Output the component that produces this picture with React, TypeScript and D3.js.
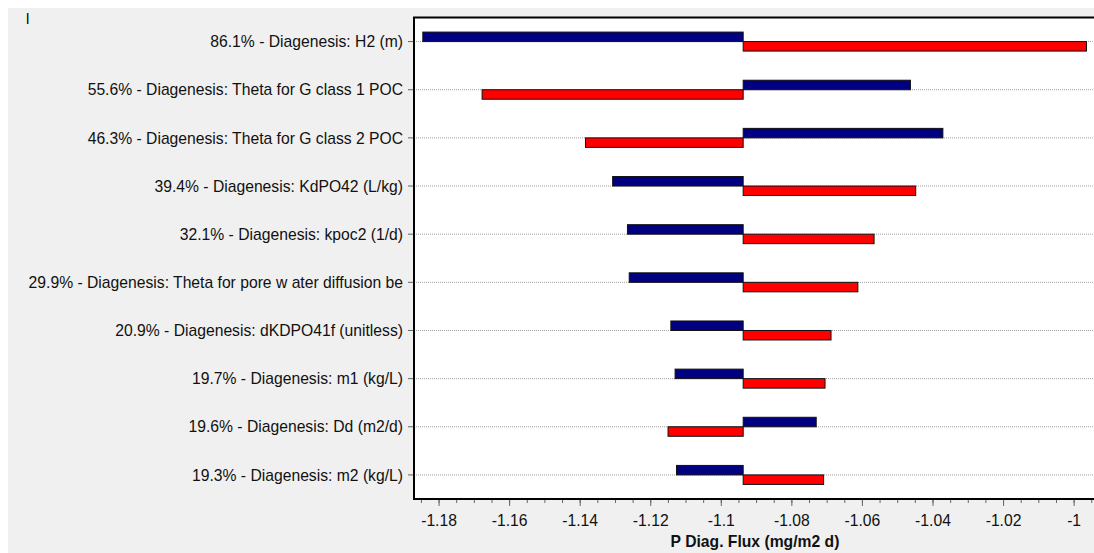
import React, { useEffect, useRef } from 'react';
import * as d3 from 'd3';

const labels = [
  '86.1% - Diagenesis: H2 (m)',
  '55.6% - Diagenesis: Theta for G class 1 POC',
  '46.3% - Diagenesis: Theta for G class 2 POC',
  '39.4% - Diagenesis: KdPO42 (L/kg)',
  '32.1% - Diagenesis: kpoc2 (1/d)',
  '29.9% - Diagenesis: Theta for pore w ater diffusion be',
  '20.9% - Diagenesis: dKDPO41f (unitless)',
  '19.7% - Diagenesis: m1 (kg/L)',
  '19.6% - Diagenesis: Dd (m2/d)',
  '19.3% - Diagenesis: m2 (kg/L)',
];

// blue bars (upper half of each row) and red bars (lower half)
const blueValues = [-1.1846, -1.0464, -1.0372, -1.1308, -1.1266, -1.1261, -1.1143, -1.1131, -1.0731, -1.1127];
const redValues = [-0.9965, -1.1678, -1.1385, -1.0449, -1.0567, -1.0613, -1.0689, -1.0706, -1.1151, -1.071];
const baseValue = -1.0938;

const xTicks = [-1.18, -1.16, -1.14, -1.12, -1.1, -1.08, -1.06, -1.04, -1.02, -1];
const xTitle = 'P Diag. Flux (mg/m2 d)';

const W = 1094;
const H = 553;

export default function App() {
  const svgRef = useRef<SVGSVGElement | null>(null);

  useEffect(() => {
    if (!svgRef.current) return;
    const svg = d3.select(svgRef.current);
    svg.selectAll('*').remove();

    const left = 414, right = 1096, top = 17.5, bottom = 499;
    const font = 'Liberation Sans, Arial, sans-serif';

    svg.append('rect')
      .attr('x', 8).attr('y', 8)
      .attr('width', W - 8).attr('height', H - 8)
      .attr('fill', '#f0f0f0');

    svg.append('text')
      .attr('x', 26).attr('y', 24)
      .attr('font-family', font).attr('font-size', 15)
      .text('l');

    const x = d3.scaleLinear().domain([-1.1871, -0.9938]).range([left, right]);
    const y = d3.scaleBand<string>().domain(labels).range([top, bottom]).padding(0);

    svg.append('rect')
      .attr('x', left).attr('y', top)
      .attr('width', right - left).attr('height', bottom - top)
      .attr('fill', '#fff');

    // gridlines
    svg.append('g').selectAll('line')
      .data(labels)
      .enter()
      .append('line')
      .attr('x1', left).attr('x2', right)
      .attr('y1', d => y(d)! + y.bandwidth() / 2)
      .attr('y2', d => y(d)! + y.bandwidth() / 2)
      .attr('stroke', '#a0a0a0')
      .attr('stroke-dasharray', '1,1');

    const bh = 9.5;
    const rows = labels.map((l, i) => ({ label: l, blue: blueValues[i], red: redValues[i] }));

    const bars = svg.append('g');
    bars.selectAll('rect.blue')
      .data(rows)
      .enter()
      .append('rect')
      .attr('class', 'blue')
      .attr('x', d => x(Math.min(d.blue, baseValue)))
      .attr('y', d => y(d.label)! + y.bandwidth() / 2 - bh)
      .attr('width', d => Math.abs(x(d.blue) - x(baseValue)))
      .attr('height', bh)
      .attr('fill', '#000080')
      .attr('stroke', '#111')
      .attr('stroke-width', 1);

    bars.selectAll('rect.red')
      .data(rows)
      .enter()
      .append('rect')
      .attr('class', 'red')
      .attr('x', d => x(Math.min(d.red, baseValue)))
      .attr('y', d => y(d.label)! + y.bandwidth() / 2)
      .attr('width', d => Math.abs(x(d.red) - x(baseValue)))
      .attr('height', bh)
      .attr('fill', '#ff0000')
      .attr('stroke', '#111')
      .attr('stroke-width', 1);

    // left axis labels
    const yAxis = svg.append('g');
    yAxis.selectAll('line')
      .data(labels)
      .enter()
      .append('line')
      .attr('x1', 408).attr('x2', left)
      .attr('y1', d => y(d)! + y.bandwidth() / 2)
      .attr('y2', d => y(d)! + y.bandwidth() / 2)
      .attr('stroke', '#666');
    yAxis.selectAll('text')
      .data(labels)
      .enter()
      .append('text')
      .attr('x', 403)
      .attr('y', d => y(d)! + y.bandwidth() / 2)
      .attr('dy', '0.36em')
      .attr('text-anchor', 'end')
      .attr('font-family', font)
      .attr('font-size', 15.7)
      .attr('fill', '#111')
      .text(d => d);

    // bottom axis
    const minor = d3.range(-1.185, -0.995, 0.005);
    const xAxis = svg.append('g');
    xAxis.selectAll('line.minor')
      .data(minor)
      .enter()
      .append('line')
      .attr('class', 'minor')
      .attr('x1', d => x(d)).attr('x2', d => x(d))
      .attr('y1', bottom).attr('y2', bottom + 4)
      .attr('stroke', '#666');
    xAxis.selectAll('line.major')
      .data(xTicks)
      .enter()
      .append('line')
      .attr('class', 'major')
      .attr('x1', d => x(d)).attr('x2', d => x(d))
      .attr('y1', bottom).attr('y2', bottom + 7)
      .attr('stroke', '#666');
    xAxis.selectAll('text')
      .data(xTicks)
      .enter()
      .append('text')
      .attr('x', d => x(d))
      .attr('y', 526)
      .attr('text-anchor', 'middle')
      .attr('font-family', font)
      .attr('font-size', 15.7)
      .attr('fill', '#111')
      .text(d => String(+d.toFixed(2)));

    svg.append('text')
      .attr('x', (left + right) / 2)
      .attr('y', 547)
      .attr('text-anchor', 'middle')
      .attr('font-family', font)
      .attr('font-size', 15.7)
      .attr('font-weight', 'bold')
      .attr('fill', '#111')
      .text(xTitle);

    // frame
    svg.append('path')
      .attr('d', `M${right},${top}H${left}V${bottom}H${right}`)
      .attr('fill', 'none')
      .attr('stroke', '#000')
      .attr('stroke-width', 2);
  }, []);

  return (
    <svg
      ref={svgRef}
      width={W}
      height={H}
      style={{ position: 'absolute', left: 0, top: 0, display: 'block' }}
    />
  );
}
